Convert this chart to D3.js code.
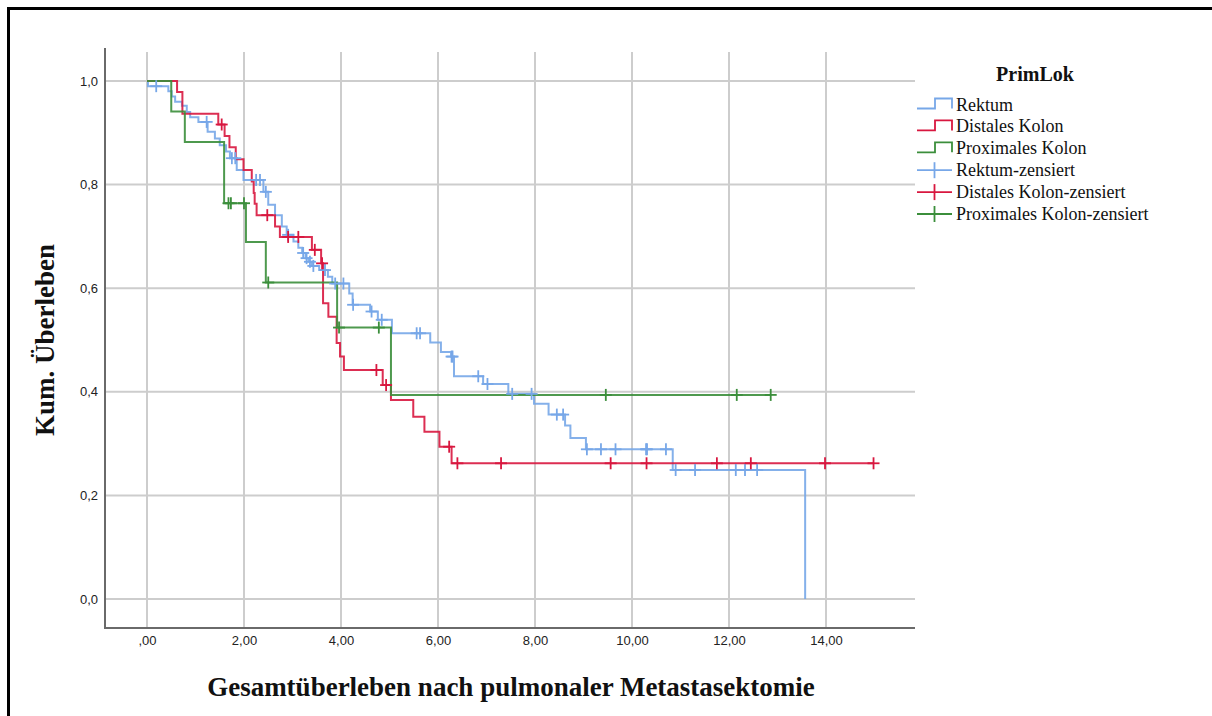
<!DOCTYPE html>
<html>
<head>
<meta charset="utf-8">
<script src="https://cdn.jsdelivr.net/npm/d3@7"></script>
<style>
  html, body { margin: 0; padding: 0; background: #fff; }
  svg { display: block; }
</style>
</head>
<body>
<svg id="chart" width="1212" height="716"></svg>
<script>
// Kaplan-Meier curves: overall survival after pulmonary metastasectomy by primary site
const xTicks = [0, 2, 4, 6, 8, 10, 12, 14];
const xTickLabels = [",00", "2,00", "4,00", "6,00", "8,00", "10,00", "12,00", "14,00"];
const yTicks = [0, 0.2, 0.4, 0.6, 0.8, 1.0];
const yTickLabels = ["0,0", "0,2", "0,4", "0,6", "0,8", "1,0"];

const groups = ["Rektum", "Distales Kolon", "Proximales Kolon"];
const legendLabels = ["Rektum", "Distales Kolon", "Proximales Kolon",
  "Rektum-zensiert", "Distales Kolon-zensiert", "Proximales Kolon-zensiert"];

// [time, cumulative survival after the step]
const rektumSteps = [[0, 1], [0.02, 0.99], [0.44, 0.98], [0.51, 0.97], [0.58, 0.96], [0.72, 0.952],
  [0.82, 0.94], [0.89, 0.93], [1.06, 0.921], [1.25, 0.902], [1.40, 0.889], [1.50, 0.876],
  [1.63, 0.864], [1.71, 0.851], [1.85, 0.828], [1.99, 0.809], [2.40, 0.786], [2.50, 0.761],
  [2.64, 0.741], [2.78, 0.719], [2.88, 0.703], [3.02, 0.69], [3.12, 0.678], [3.20, 0.668],
  [3.27, 0.658], [3.33, 0.651], [3.40, 0.643], [3.55, 0.635], [3.73, 0.622], [3.82, 0.609],
  [4.17, 0.59], [4.24, 0.568], [4.60, 0.555], [4.76, 0.539], [5.05, 0.513], [5.84, 0.495],
  [6.06, 0.477], [6.27, 0.468], [6.33, 0.43], [6.93, 0.415], [7.45, 0.396], [7.98, 0.377],
  [8.28, 0.356], [8.62, 0.335], [8.73, 0.311], [9.05, 0.289], [10.84, 0.249], [13.57, 0]];
const rektumCensored = [0.19, 1.23, 1.75, 1.82, 2.25, 2.33, 2.45, 2.91, 3.22, 3.29, 3.36, 3.43,
  3.67, 3.88, 4.05, 4.25, 4.63, 4.84, 5.56, 5.63, 6.28, 6.30, 6.83, 7.02, 7.53, 7.93, 8.45,
  8.58, 9.07, 9.36, 9.66, 10.29, 10.31, 10.70, 10.90, 11.30, 12.14, 12.33, 12.58];

const distalSteps = [[0, 1], [0.62, 0.979], [0.73, 0.937], [1.47, 0.916], [1.60, 0.894],
  [1.70, 0.872], [1.83, 0.849], [1.99, 0.828], [2.16, 0.806], [2.20, 0.784], [2.22, 0.763],
  [2.26, 0.741], [2.64, 0.719], [2.74, 0.699], [3.40, 0.674], [3.59, 0.648], [3.63, 0.571],
  [3.74, 0.545], [3.91, 0.494], [3.98, 0.468], [4.06, 0.442], [4.86, 0.413], [5.03, 0.384],
  [5.49, 0.352], [5.72, 0.323], [6.03, 0.294], [6.28, 0.262]];
const distalCensored = [1.54, 2.48, 2.91, 3.12, 3.46, 3.61, 4.73, 4.93, 6.23, 6.40, 7.30,
  9.56, 10.30, 11.75, 12.45, 13.98, 14.98];

const proximalSteps = [[0, 1], [0.50, 0.941], [0.78, 0.882], [1.59, 0.764], [2.04, 0.689],
  [2.45, 0.611], [3.92, 0.524], [5.03, 0.394]];
const proximalCensored = [1.68, 1.73, 2.00, 2.50, 3.96, 4.78, 9.46, 12.16, 12.86];

const colors = ["#77a7e8", "#d8173f", "#3b8e3b"];

const series = [
  { name: groups[0], steps: rektumSteps, censored: rektumCensored, color: colors[0] },
  { name: groups[1], steps: distalSteps, censored: distalCensored, color: colors[1] },
  { name: groups[2], steps: proximalSteps, censored: proximalCensored, color: colors[2] }
];

// layout
const plot = { left: 105, right: 915, top: 52, bottom: 628 };
const x = d3.scaleLinear().domain([0, 14]).range([147, 826]);
const y = d3.scaleLinear().domain([0, 1]).range([599, 81]);

const svg = d3.select("#chart");

// outer frame (left and top edges)
svg.append("line").attr("x1", 8.5).attr("x2", 8.5).attr("y1", 7).attr("y2", 716)
  .attr("stroke", "#000").attr("stroke-width", 3);
svg.append("line").attr("x1", 7).attr("x2", 1212).attr("y1", 8.5).attr("y2", 8.5)
  .attr("stroke", "#000").attr("stroke-width", 3);

// grid
const grid = svg.append("g").attr("stroke", "#cdcdcd").attr("stroke-width", 2);
grid.selectAll("line.v").data(xTicks).join("line").attr("class", "v")
  .attr("x1", d => x(d)).attr("x2", d => x(d))
  .attr("y1", plot.top).attr("y2", plot.bottom);
grid.selectAll("line.h").data(yTicks).join("line").attr("class", "h")
  .attr("x1", plot.left).attr("x2", plot.right)
  .attr("y1", d => y(d)).attr("y2", d => y(d));

// axes
const xAxis = d3.axisBottom(x).tickValues(xTicks).tickSize(0).tickPadding(8)
  .tickFormat((d, i) => xTickLabels[i]);
const gx = svg.append("g").attr("transform", `translate(0,${plot.bottom})`).call(xAxis);
gx.select(".domain").remove();
gx.selectAll("text").attr("font-family", "Liberation Sans, Arial, sans-serif")
  .attr("font-size", 13).attr("fill", "#222");

const yAxis = d3.axisLeft(y).tickValues(yTicks).tickSize(0).tickPadding(7)
  .tickFormat((d, i) => yTickLabels[i]);
const gy = svg.append("g").attr("transform", `translate(${plot.left},0)`).call(yAxis);
gy.select(".domain").remove();
gy.selectAll("text").attr("font-family", "Liberation Sans, Arial, sans-serif")
  .attr("font-size", 13).attr("fill", "#222");

svg.append("line").attr("x1", plot.left).attr("x2", plot.left)
  .attr("y1", plot.top - 4).attr("y2", plot.bottom + 1)
  .attr("stroke", "#6a6a6a").attr("stroke-width", 2);
svg.append("line").attr("x1", plot.left).attr("x2", plot.right)
  .attr("y1", plot.bottom).attr("y2", plot.bottom)
  .attr("stroke", "#6a6a6a").attr("stroke-width", 2);

// axis titles
svg.append("text").attr("x", (plot.left + plot.right) / 2 + 1).attr("y", 696)
  .attr("text-anchor", "middle")
  .attr("font-family", "Liberation Serif, Times New Roman, serif")
  .attr("font-weight", "bold").attr("font-size", 27).attr("fill", "#111")
  .text("Gesamtüberleben nach pulmonaler Metastasektomie");
svg.append("text")
  .attr("transform", `translate(54,${(plot.top + plot.bottom) / 2}) rotate(-90)`)
  .attr("text-anchor", "middle")
  .attr("font-family", "Liberation Serif, Times New Roman, serif")
  .attr("font-weight", "bold").attr("font-size", 27).attr("fill", "#111")
  .text("Kum. Überleben");

// survival value at time t from a step list
function survAt(steps, t) {
  let s = steps[0][1];
  for (const [tt, v] of steps) { if (tt <= t) s = v; else break; }
  return s;
}

const line = d3.line().x(d => x(d[0])).y(d => y(d[1])).curve(d3.curveStepAfter);

const curves = svg.append("g");
series.forEach(s => {
  const pts = s.steps.slice();
  const last = pts[pts.length - 1];
  const lastCens = d3.max(s.censored);
  if (lastCens > last[0]) pts.push([lastCens, last[1]]);
  curves.append("path").attr("d", line(pts))
    .attr("fill", "none").attr("stroke", s.color).attr("stroke-width", 2)
    .attr("stroke-opacity", 0.9);
});

// censoring marks
series.forEach(s => {
  const g = svg.append("g").attr("stroke", s.color).attr("stroke-width", 1.8);
  s.censored.forEach(t => {
    const cx = x(t), cy = y(survAt(s.steps, t));
    g.append("line").attr("x1", cx).attr("x2", cx).attr("y1", cy - 6).attr("y2", cy + 6);
    g.append("line").attr("x1", cx - 6).attr("x2", cx + 6).attr("y1", cy).attr("y2", cy);
  });
});

// legend
const lg = svg.append("g");
lg.append("text").attr("x", 1035).attr("y", 81).attr("text-anchor", "middle")
  .attr("font-family", "Liberation Serif, Times New Roman, serif")
  .attr("font-weight", "bold").attr("font-size", 20).attr("fill", "#111").text("PrimLok");
const rowY = i => 104.5 + i * 21.9;
legendLabels.forEach((lab, i) => {
  const c = colors[i % 3];
  const cy = rowY(i);
  if (i < 3) {
    lg.append("path")
      .attr("d", `M917,${cy + 4}H935V${cy - 6}H952V${cy + 4}`)
      .attr("fill", "none").attr("stroke", c).attr("stroke-width", 1.8);
  } else {
    lg.append("line").attr("x1", 917).attr("x2", 952).attr("y1", cy).attr("y2", cy)
      .attr("stroke", c).attr("stroke-width", 1.8);
    lg.append("line").attr("x1", 934.5).attr("x2", 934.5).attr("y1", cy - 8).attr("y2", cy + 8)
      .attr("stroke", c).attr("stroke-width", 1.8);
  }
  lg.append("text").attr("x", 956).attr("y", cy + 6)
    .attr("font-family", "Liberation Serif, Times New Roman, serif")
    .attr("font-size", 18).attr("fill", "#111").text(lab);
});
</script>
</body>
</html>
